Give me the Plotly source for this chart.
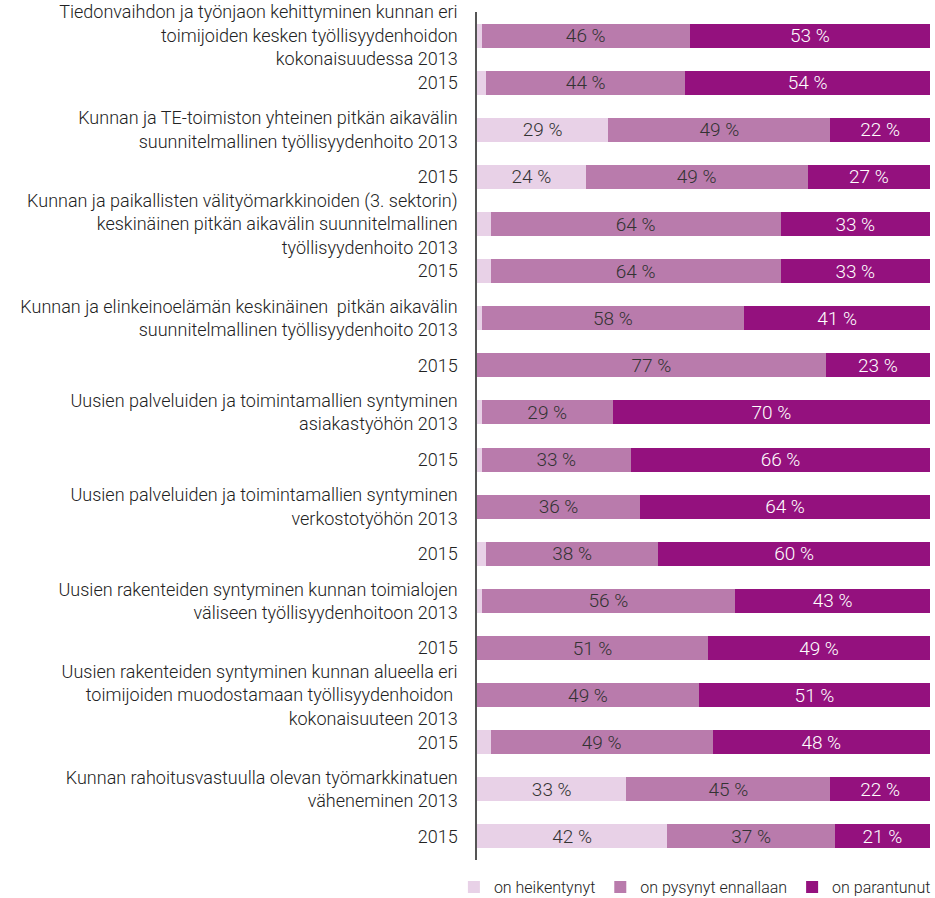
import plotly.graph_objects as go

labels = [
    "Tiedonvaihdon ja työnjaon kehittyminen kunnan eri<br>toimijoiden kesken työllisyydenhoidon<br>kokonaisuudessa 2013",
    "2015",
    "Kunnan ja TE-toimiston yhteinen pitkän aikavälin<br>suunnitelmallinen työllisyydenhoito 2013",
    "2015",
    "Kunnan ja paikallisten välityömarkkinoiden (3. sektorin)<br>keskinäinen pitkän aikavälin suunnitelmallinen<br>työllisyydenhoito 2013",
    "2015",
    "Kunnan ja elinkeinoelämän keskinäinen  pitkän aikavälin<br>suunnitelmallinen työllisyydenhoito 2013",
    "2015",
    "Uusien palveluiden ja toimintamallien syntyminen<br>asiakastyöhön 2013",
    "2015",
    "Uusien palveluiden ja toimintamallien syntyminen<br>verkostotyöhön 2013",
    "2015",
    "Uusien rakenteiden syntyminen kunnan toimialojen<br>väliseen työllisyydenhoitoon 2013",
    "2015",
    "Uusien rakenteiden syntyminen kunnan alueella eri<br>toimijoiden muodostamaan työllisyydenhoidon <br>kokonaisuuteen 2013",
    "2015",
    "Kunnan rahoitusvastuulla olevan työmarkkinatuen<br>väheneminen 2013",
    "2015",
]
heikentynyt = [1, 2, 29, 24, 3, 3, 1, 0, 1, 1, 0, 2, 1, 0, 0, 3, 33, 42]
pysynyt = [46, 44, 49, 49, 64, 64, 58, 77, 29, 33, 36, 38, 56, 51, 49, 49, 45, 37]
parantunut = [53, 54, 22, 27, 33, 33, 41, 23, 70, 66, 64, 60, 43, 49, 51, 48, 22, 21]
series_names = ["on heikentynyt", "on pysynyt ennallaan", "on parantunut"]
colors = ["#E8D1E7", "#B97BAC", "#94117E"]
text_colors = ["#333333", "#333333", "#FFFFFF"]

positions = list(range(len(labels)))
totals = [a + b + c for a, b, c in zip(heikentynyt, pysynyt, parantunut)]

FONT = "Roboto"
fig = go.Figure()
for name, vals, col, tcol in zip(series_names, [heikentynyt, pysynyt, parantunut], colors, text_colors):
    txt = [f"{v:.0f} %" if v >= 5 else "" for v in vals]
    fig.add_trace(go.Bar(
        y=positions, x=vals, name=name, orientation="h",
        marker=dict(color=col, line=dict(width=0)),
        text=txt, textposition="inside", insidetextanchor="middle",
        textfont=dict(color=tcol, size=19, family=FONT, weight=300),
        constraintext="none",
        hoverinfo="skip",
    ))

fig.update_layout(
    barmode="stack",
    bargap=0.49,
    width=935, height=898,
    margin=dict(l=477, r=5, t=12, b=38, autoexpand=False),
    paper_bgcolor="white", plot_bgcolor="white",
    font=dict(family=FONT, size=18, color="#222222", weight=300),
    legend=dict(orientation="h", x=-0.051, xanchor="left", y=-0.032, yanchor="middle",
                font=dict(size=16, color="#222222", family=FONT, weight=300),
                traceorder="normal", itemwidth=30, tracegroupgap=0),
    showlegend=True,
)
fig.update_xaxes(range=[0, max(totals)], visible=False, showgrid=False, fixedrange=True)
fig.update_yaxes(
    tickvals=positions, ticktext=labels, autorange="reversed", automargin=False,
    showgrid=False, zeroline=False, ticklabeloverflow="allow", fixedrange=True,
    showline=True, linecolor="#555555", linewidth=1.5,
    ticks="", ticklabelstandoff=14,
    tickfont=dict(size=18, color="#222222", family=FONT, weight=300),
)
fig.write_html("out.html", config={"displayModeBar": False},
               post_script="document.body.style.margin='0';")
